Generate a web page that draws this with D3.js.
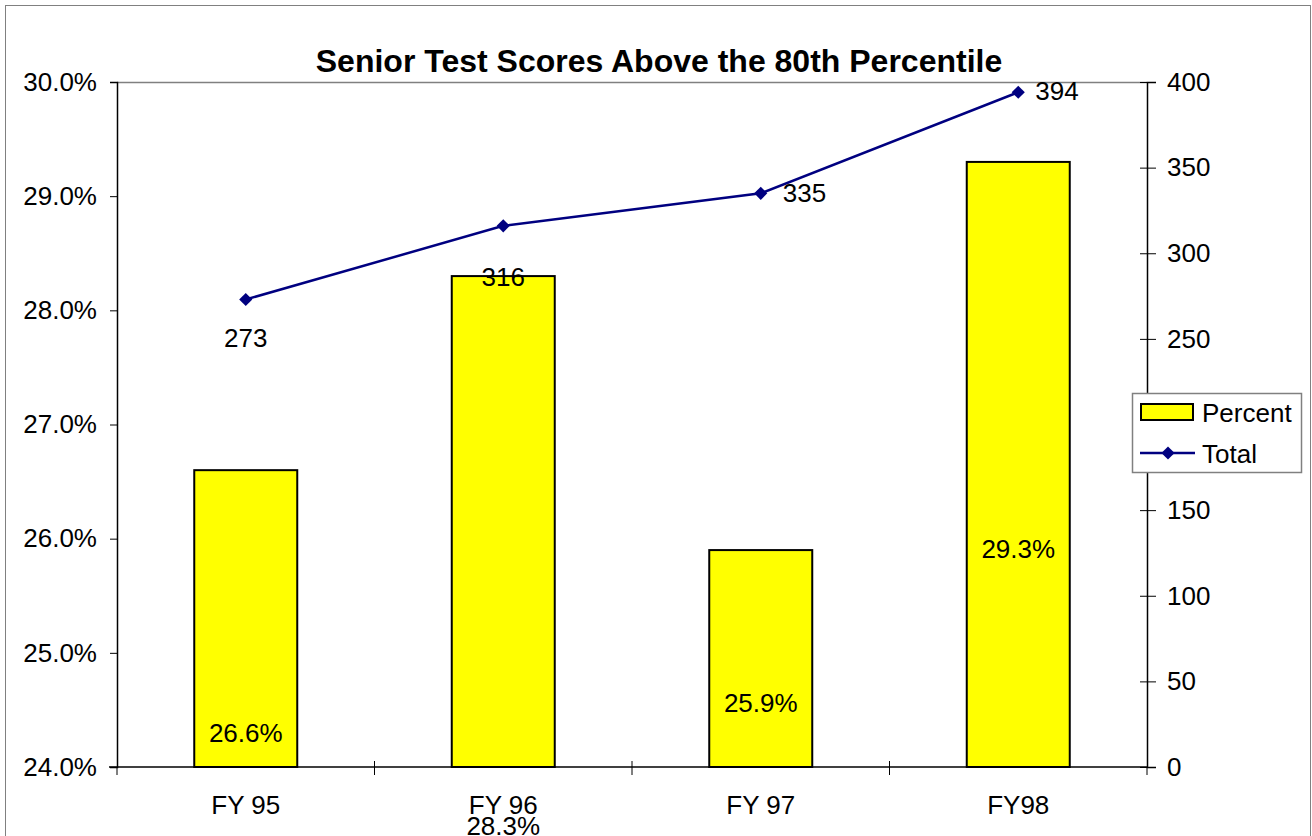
<!DOCTYPE html>
<html>
<head>
<meta charset="utf-8">
<script src="https://cdn.jsdelivr.net/npm/d3@7"></script>
<style>
  body { margin: 0; background: #fff; }
  svg { font-family: "Liberation Sans", Arial, sans-serif; }
</style>
</head>
<body>
<svg width="1312" height="836"></svg>
<script>
// data
let years = ["FY 95", "FY 96", "FY 97", "FY98"];
let percent = [26.6, 28.3, 25.9, 29.3];
let total = [273, 316, 335, 394];
let leftTicks = [24, 25, 26, 27, 28, 29, 30];
let rightTicks = [0, 50, 100, 150, 200, 250, 300, 350, 400];

// label placement (layout only)
let pctLabelY = [742, 835, 712, 558];
let totLabel = [[0, 48, "middle"], [0, 60, "middle"], [22, 9, "start"], [17, 8, "start"]];

let fs = 26;
let s = d3.select("svg");
let L = 117, R = 1147, T = 82, B = 767;

// frame
s.append("rect").attr("x", 5.5).attr("y", 5.5).attr("width", 1305).attr("height", 840)
  .attr("fill", "#fff").attr("stroke", "#808080").attr("stroke-width", 1);

let x = d3.scaleBand().domain(years).range([L, R]).padding(0);
let yL = d3.scaleLinear().domain([24, 30]).range([B, T]);
let yR = d3.scaleLinear().domain([0, 400]).range([B, T]);

// plot top border
s.append("line").attr("x1", L).attr("x2", R).attr("y1", T + 0.5).attr("y2", T + 0.5)
  .attr("stroke", "#808080").attr("stroke-width", 1.5);

// bars
let bw = x.bandwidth() * 0.4;
s.selectAll(".bar").data(percent).enter().append("rect")
  .attr("class", "bar")
  .attr("x", (d, i) => x(years[i]) + x.bandwidth() / 2 - bw / 2)
  .attr("y", d => yL(d))
  .attr("width", bw)
  .attr("height", d => B - yL(d))
  .attr("fill", "#ffff00")
  .attr("stroke", "#000").attr("stroke-width", 2);

// left axis
let axL = s.append("g").attr("transform", "translate(" + L + ",0)")
  .call(d3.axisLeft(yL).tickValues(leftTicks).tickSize(7).tickPadding(13)
    .tickFormat(d => d.toFixed(1) + "%"));
axL.select(".domain").attr("stroke", "#000").attr("stroke-width", 1.5);

// right axis (200 label sits under the legend)
let axR = s.append("g").attr("transform", "translate(" + R + ",0)")
  .call(d3.axisRight(yR).tickValues(rightTicks).tickSize(9).tickPadding(11));
axR.selectAll(".tick line").attr("x1", -7);
axR.selectAll(".tick text").filter(d => d == 200).remove();
axR.select(".domain").attr("stroke", "#000").attr("stroke-width", 1.5);

// bottom axis
let axB = s.append("g").attr("transform", "translate(0," + B + ")");
axB.append("line").attr("x1", L - 8).attr("x2", R).attr("stroke", "#000").attr("stroke-width", 1.5);
let bounds = years.map(d => x(d)).concat([R]);
axB.selectAll(".btick").data(bounds).enter().append("line")
  .attr("x1", d => d).attr("x2", d => d)
  .attr("y1", (d, i) => i == 0 || i == bounds.length - 1 ? 0 : -6).attr("y2", 8)
  .attr("stroke", "#000").attr("stroke-width", 1);
axB.selectAll(".blab").data(years).enter().append("text")
  .attr("x", d => x(d) + x.bandwidth() / 2)
  .attr("y", 47)
  .attr("text-anchor", "middle")
  .attr("font-size", fs)
  .text(d => d);

s.selectAll(".tick text").attr("font-size", fs).attr("font-family", "Liberation Sans, Arial, sans-serif").attr("fill", "#000");
s.selectAll(".tick line").attr("stroke", "#000");

// line
let cx = i => x(years[i]) + x.bandwidth() / 2;
let line = d3.line().x((d, i) => cx(i)).y(d => yR(d));
s.append("path").datum(total).attr("d", line)
  .attr("fill", "none").attr("stroke", "#000080").attr("stroke-width", 2.5);
let diamond = d3.symbol().type(d3.symbolDiamond2).size(110);
s.selectAll(".pt").data(total).enter().append("path")
  .attr("d", diamond)
  .attr("transform", (d, i) => "translate(" + cx(i) + "," + yR(d) + ")")
  .attr("fill", "#000080");

// total labels
s.selectAll(".tlab").data(total).enter().append("text")
  .attr("x", (d, i) => cx(i) + totLabel[i][0])
  .attr("y", (d, i) => yR(d) + totLabel[i][1])
  .attr("text-anchor", (d, i) => totLabel[i][2])
  .attr("font-size", fs)
  .text(d => d);

// percent labels
s.selectAll(".plab").data(percent).enter().append("text")
  .attr("x", (d, i) => cx(i))
  .attr("y", (d, i) => pctLabelY[i])
  .attr("text-anchor", "middle")
  .attr("font-size", fs)
  .text(d => d.toFixed(1) + "%");

// title
s.append("text").attr("x", 659).attr("y", 72)
  .attr("text-anchor", "middle")
  .attr("font-size", 32).attr("font-weight", "bold")
  .text("Senior Test Scores Above the 80th Percentile");

// legend
let lg = s.append("g").attr("transform", "translate(1132,393)");
lg.append("rect").attr("x", 0.5).attr("y", 0.5).attr("width", 169).attr("height", 79)
  .attr("fill", "#fff").attr("stroke", "#808080").attr("stroke-width", 1.5);
lg.append("rect").attr("x", 9).attr("y", 11).attr("width", 52).attr("height", 16)
  .attr("fill", "#ffff00").attr("stroke", "#000").attr("stroke-width", 2);
lg.append("text").attr("x", 70).attr("y", 29).attr("font-size", fs).text("Percent");
lg.append("line").attr("x1", 8).attr("x2", 63).attr("y1", 60).attr("y2", 60)
  .attr("stroke", "#000080").attr("stroke-width", 2.5);
lg.append("path").attr("d", diamond).attr("transform", "translate(36,60)").attr("fill", "#000080");
lg.append("text").attr("x", 70).attr("y", 70).attr("font-size", fs).text("Total");
</script>
</body>
</html>
